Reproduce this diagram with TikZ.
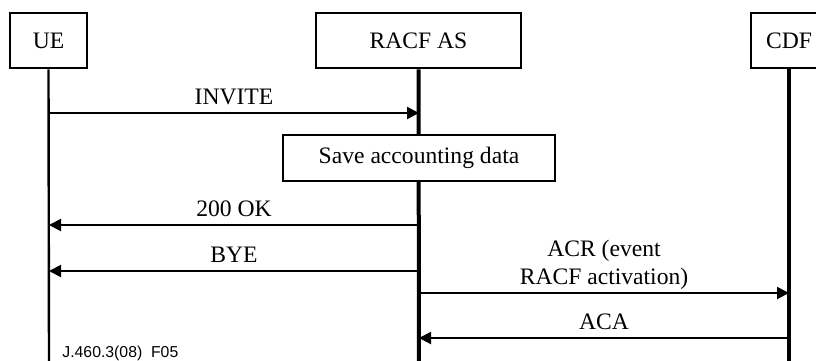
\documentclass[tikz,border=0pt]{standalone}
\usepackage{fontspec}
\setmainfont{Liberation Serif}
\newfontfamily\notefont{Liberation Sans}
\usetikzlibrary{arrows.meta}
\tikzset{
  entity/.style={draw, line width=1.3pt, minimum height=27.5pt, inner sep=0pt,
                 font=\fontsize{11.8pt}{13pt}\selectfont},
  action/.style={draw, line width=1.3pt, minimum height=23pt, minimum width=136pt,
                 fill=white, inner sep=0pt, font=\fontsize{11.8pt}{13pt}\selectfont},
  lifeline/.style={line width=1.2pt},
  msg/.style={line width=1pt, -{Triangle[length=6pt,width=6pt]}},
  msglabel/.style={midway, above, inner sep=0pt, yshift=4pt, text depth=0pt,
                   align=center, font=\fontsize{11.8pt}{14pt}\selectfont},
}
\begin{document}
\begin{tikzpicture}[x=0.5pt, y=-0.5pt]
  \useasboundingbox (0,0) rectangle (816,360);

  % participants
  \node[entity, minimum width=38.5pt] (ue)   at (48.5,40.5) {UE};
  \node[entity, minimum width=102.5pt] (racf) at (418.5,40.5) {RACF AS};
  \node[entity, minimum width=38pt] (cdf)  at (789,40.5) {CDF};

  % lifelines
  \coordinate (ueEnd)   at (49,362);
  \coordinate (racfEnd) at (419,362);
  \coordinate (cdfEnd)  at (789,362);
  \draw[lifeline] (ue.south) -- (ueEnd);
  \draw[lifeline, line width=2pt] (racf.south) -- (racfEnd);
  \draw[lifeline, line width=1.6pt] (cdf.south) -- (cdfEnd);

  % local action at the RACF AS
  \node[action] (save) at (419,158) {Save accounting data};

  % message anchors on the lifelines
  \coordinate (ue1) at (49,113);   \coordinate (ra1) at (419,113);
  \coordinate (ue2) at (49,225);   \coordinate (ra2) at (419,225);
  \coordinate (ue3) at (49,271);   \coordinate (ra3) at (419,271);
  \coordinate (ra4) at (419,293);  \coordinate (cd4) at (789,293);
  \coordinate (ra5) at (419,338);  \coordinate (cd5) at (789,338);

  % messages
  \draw[msg] (ue1) -- node[msglabel] {INVITE} (ra1);
  \draw[msg] (ra2) -- node[msglabel] {200 OK} (ue2);
  \draw[msg] (ra3) -- node[msglabel] {BYE} (ue3);
  \draw[msg] (ra4) -- node[msglabel] {ACR (event\\RACF activation)} (cd4);
  \draw[msg] (cd5) -- node[msglabel] {ACA} (ra5);

  % figure reference
  \node[anchor=base west, inner sep=0pt, font=\notefont\fontsize{7.9pt}{9pt}\selectfont]
    (ref) at (62,357) {J.460.3(08)\ \ F05};
\end{tikzpicture}
\end{document}
